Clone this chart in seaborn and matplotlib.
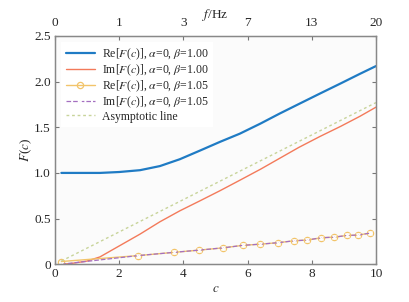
import numpy as np
import pandas as pd
import matplotlib
matplotlib.use('Agg')
import matplotlib.pyplot as plt
import seaborn as sns

# values
c_main = [0.2, 0.5, 1.0, 1.4, 2.0, 2.65, 3.27, 3.89, 4.52, 5.14, 5.76, 6.4, 7.0, 7.6,
          8.26, 8.9, 9.5, 10.0]
re_b100 = [1.0, 1.0, 1.0, 1.0, 1.01, 1.03, 1.075, 1.15, 1.245, 1.34, 1.43, 1.54, 1.65, 1.755,
           1.87, 1.98, 2.085, 2.17]
im_b100 = [0.0, 0.008, 0.035, 0.08, 0.2, 0.33, 0.465, 0.585, 0.695, 0.805, 0.92, 1.04, 1.16,
           1.28, 1.40, 1.51, 1.62, 1.72]

c_mark = [0.2, 2.6, 3.7, 4.5, 5.25, 5.85, 6.4, 6.95, 7.45, 7.85, 8.3, 8.7, 9.1, 9.45, 9.8]
re_b105 = [0.03, 0.095, 0.13, 0.155, 0.18, 0.207, 0.22, 0.236, 0.257, 0.265, 0.29, 0.297,
           0.315, 0.32, 0.34]
im_b105 = [0.0, 0.095, 0.13, 0.155, 0.18, 0.207, 0.22, 0.236, 0.257, 0.265, 0.29, 0.297,
           0.315, 0.32, 0.34]

c_asym = [0.2, 10.0]
asym = [0.035, 1.77]

f_ticks_c = [0, 2, 4, 6, 8, 10]
f_labels = ['0', '1', '3', '7', '13', '20']

sns.set_style('ticks')
plt.rcParams['font.family'] = ['Liberation Serif', 'DejaVu Serif']
plt.rcParams['mathtext.fontset'] = 'stix'
plt.rcParams['font.size'] = 9.5

fig = plt.figure(figsize=(4.1, 3.02), dpi=100)
ax = fig.add_axes([0.134, 0.125, 0.783, 0.756])
ax.set_facecolor('#fbfbfb')

blue = '#1f7bc4'
orange = '#f37a5a'
yellow = '#f2c46a'
purple = '#a46fc0'
green = '#c8d49a'

sns.lineplot(x=c_main, y=re_b100, ax=ax, color=blue, lw=1.6,
             label=r'Re[$F$($c$)], $\alpha$=0, $\beta$=1.00')
sns.lineplot(x=c_main, y=im_b100, ax=ax, color=orange, lw=1.0,
             label=r'Im[$F$($c$)], $\alpha$=0, $\beta$=1.00')
sns.lineplot(x=c_mark, y=re_b105, ax=ax, color=yellow, lw=1.0, marker='o', ms=4.5,
             mfc='none', mec=yellow, mew=0.9,
             label=r'Re[$F$($c$)], $\alpha$=0, $\beta$=1.05')
sns.lineplot(x=c_mark, y=im_b105, ax=ax, color=purple, lw=0.9, ls='--', marker='x', ms=3.5,
             mew=0.9, label=r'Im[$F$($c$)], $\alpha$=0, $\beta$=1.05')
sns.lineplot(x=c_asym, y=asym, ax=ax, color=green, lw=1.0, ls=(0, (2, 2)),
             label='Asymptotic line')

ax.set_xlim(0, 10)
ax.set_ylim(0, 2.5)
ax.set_xticks([0, 2, 4, 6, 8, 10])
ax.set_yticks([0, 0.5, 1.0, 1.5, 2.0, 2.5])
ax.set_yticklabels(['0', '0.5', '1.0', '1.5', '2.0', '2.5'])
ax.set_xlabel(r'$c$', labelpad=2)
ax.set_ylabel(r'$F$($c$)', labelpad=0)
ax.tick_params(direction='in', length=3, color='#777777', right=True, pad=3)
for s in ax.spines.values():
    s.set_color('#888888')
    s.set_linewidth(1.0)

ax2 = ax.twiny()
ax2.set_xlim(0, 10)
ax2.set_xticks(f_ticks_c)
ax2.set_xticklabels(f_labels)
ax2.tick_params(direction='in', length=3, color='#777777', pad=5)
ax2.set_xlabel(r'$f$/Hz', labelpad=-1)
for s in ax2.spines.values():
    s.set_color('#888888')

leg = ax.legend(loc='upper left', frameon=True, fancybox=False, handlelength=2.5,
                borderaxespad=0.5, labelspacing=0.05, handletextpad=0.6, fontsize=8.5)
leg.get_frame().set_edgecolor('none')
leg.get_frame().set_facecolor('white')
leg.get_frame().set_alpha(1.0)

fig.savefig('out.png', dpi=100)
